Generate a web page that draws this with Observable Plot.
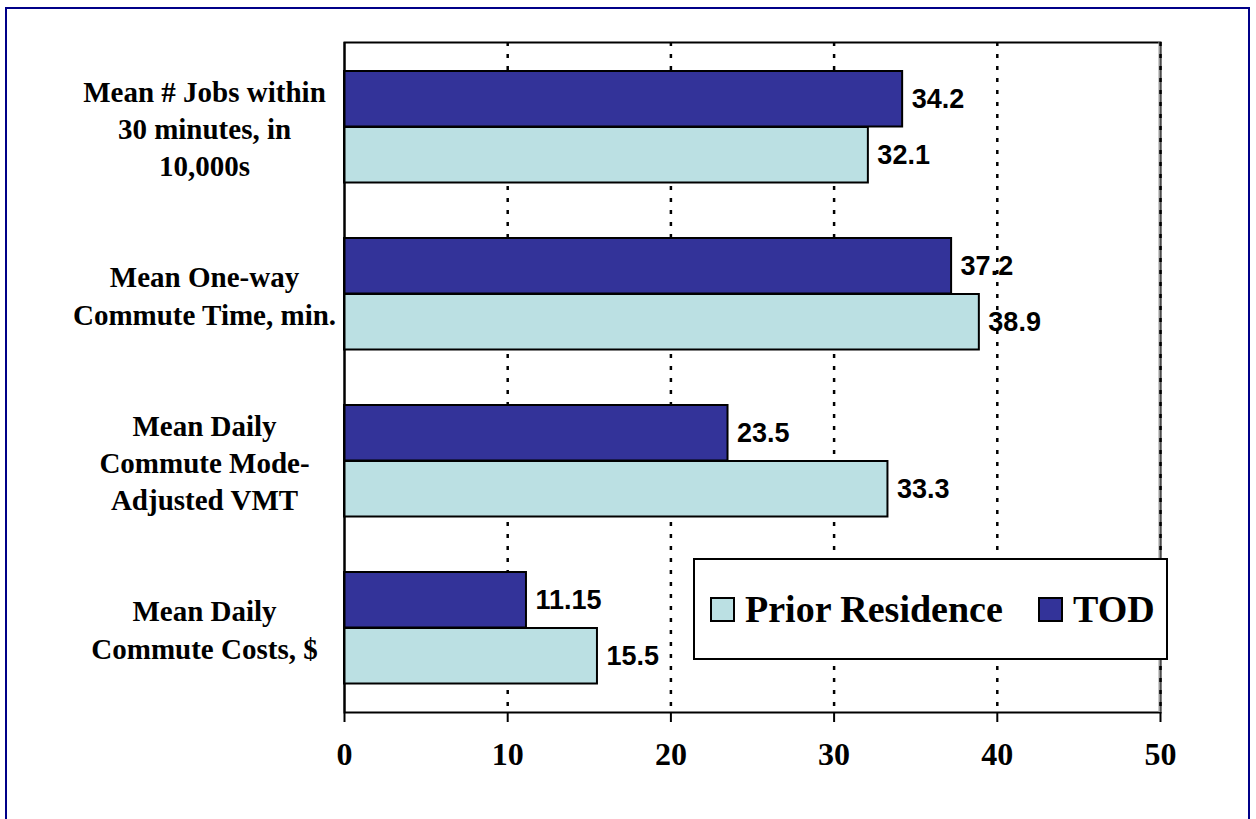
<!DOCTYPE html>
<html>
<head>
<meta charset="utf-8">
<script src="https://cdn.jsdelivr.net/npm/d3@7"></script>
<script src="https://cdn.jsdelivr.net/npm/@observablehq/plot@0.6"></script>
<style>
  html, body { margin: 0; padding: 0; background: #fff; overflow: hidden; }
  #wrap { position: relative; width: 1256px; height: 819px; }
  #border { position: absolute; left: 5px; top: 7px; width: 1241px; height: 900px; border: 2px solid #000088; box-sizing: content-box; }
  #chart { position: absolute; left: 0; top: 0; }
  #legend { position: absolute; left: 693px; top: 558px; width: 471px; height: 98px; border: 2px solid #000; background: #fff;
            font-family: "Liberation Serif", "Times New Roman", serif; font-weight: bold; font-size: 38px; color: #000; }
  .item { position: absolute; top: 0; height: 98px; display: flex; align-items: center; }
  .sw { width: 21px; height: 21px; border: 2px solid #000; margin-right: 10px; }
</style>
</head>
<body>
<div id="wrap">
  <div id="border"></div>
  <div id="chart"></div>
  <div id="legend"></div>
</div>
<script>
const categories = [
  "Mean # Jobs within\n30 minutes, in\n10,000s",
  "Mean One-way\nCommute Time, min.",
  "Mean Daily\nCommute Mode-\nAdjusted VMT",
  "Mean Daily\nCommute Costs, $"
];
const seriesNames = ["Prior Residence", "TOD"];
const priorValues = [32.1, 38.9, 33.3, 15.5];
const todValues = [34.2, 37.2, 23.5, 11.15];
const xTicks = [0, 10, 20, 30, 40, 50];
const colors = { "Prior Residence": "#BBE0E3", "TOD": "#333399" };

const rows = categories.map((c, i) => ({ cat: c, prior: priorValues[i], tod: todValues[i] }));

const serif = "'Liberation Serif', 'Times New Roman', serif";
const sans = "'Liberation Sans', Arial, sans-serif";

const chart = Plot.plot({
  width: 1256,
  height: 819,
  marginLeft: 344,
  marginRight: 96,
  marginTop: 42,
  marginBottom: 107,
  style: { color: "#000", background: "transparent", overflow: "visible" },
  x: { domain: [0, 50] },
  y: { domain: categories, padding: 0, axis: null },
  marks: [
    Plot.frame({ stroke: "#000", strokeWidth: 2 }),
    Plot.ruleX([50], { stroke: "#999", strokeWidth: 2, dx: -1 }),
    Plot.ruleX(xTicks.filter(d => d > 0), { stroke: "#000", strokeWidth: 2.5, strokeDasharray: "4,8" }),
    Plot.barX(rows, { y: "cat", x: "tod", fill: colors["TOD"], stroke: "#000", strokeWidth: 2, insetTop: 28, insetBottom: 83.5 }),
    Plot.barX(rows, { y: "cat", x: "prior", fill: colors["Prior Residence"], stroke: "#000", strokeWidth: 2, insetTop: 84, insetBottom: 27.5 }),
    Plot.ruleX([0], { stroke: "#000", strokeWidth: 2 }),
    Plot.text(rows, { y: "cat", x: "tod", text: d => String(d.tod), dy: -28, dx: 9, textAnchor: "start",
      fontFamily: sans, fontSize: 27, fontWeight: "bold", fill: "#000" }),
    Plot.text(rows, { y: "cat", x: "prior", text: d => String(d.prior), dy: 28, dx: 9, textAnchor: "start",
      fontFamily: sans, fontSize: 27, fontWeight: "bold", fill: "#000" }),
    Plot.text(rows, { y: "cat", text: "cat", frameAnchor: "left", dx: -140, textAnchor: "middle", lineHeight: 1.29,
      fontFamily: serif, fontSize: 29, fontWeight: "bold", fill: "#000" }),
    Plot.axisX({ ticks: xTicks, tickSize: 10, tickPadding: 20, strokeWidth: 2, label: null,
      fontFamily: serif, fontSize: 32, fontWeight: "bold", fill: "#000" })
  ]
});
document.getElementById("chart").appendChild(chart);

// legend
const legend = document.getElementById("legend");
const legendItems = [
  { name: seriesNames[0], left: 15 },
  { name: seriesNames[1], left: 343 }
];
legendItems.forEach(it => {
  const d = document.createElement("div");
  d.className = "item";
  d.style.left = it.left + "px";
  const sw = document.createElement("div");
  sw.className = "sw";
  sw.style.background = colors[it.name];
  const t = document.createElement("span");
  t.textContent = it.name;
  d.appendChild(sw);
  d.appendChild(t);
  legend.appendChild(d);
});
</script>
</body>
</html>
